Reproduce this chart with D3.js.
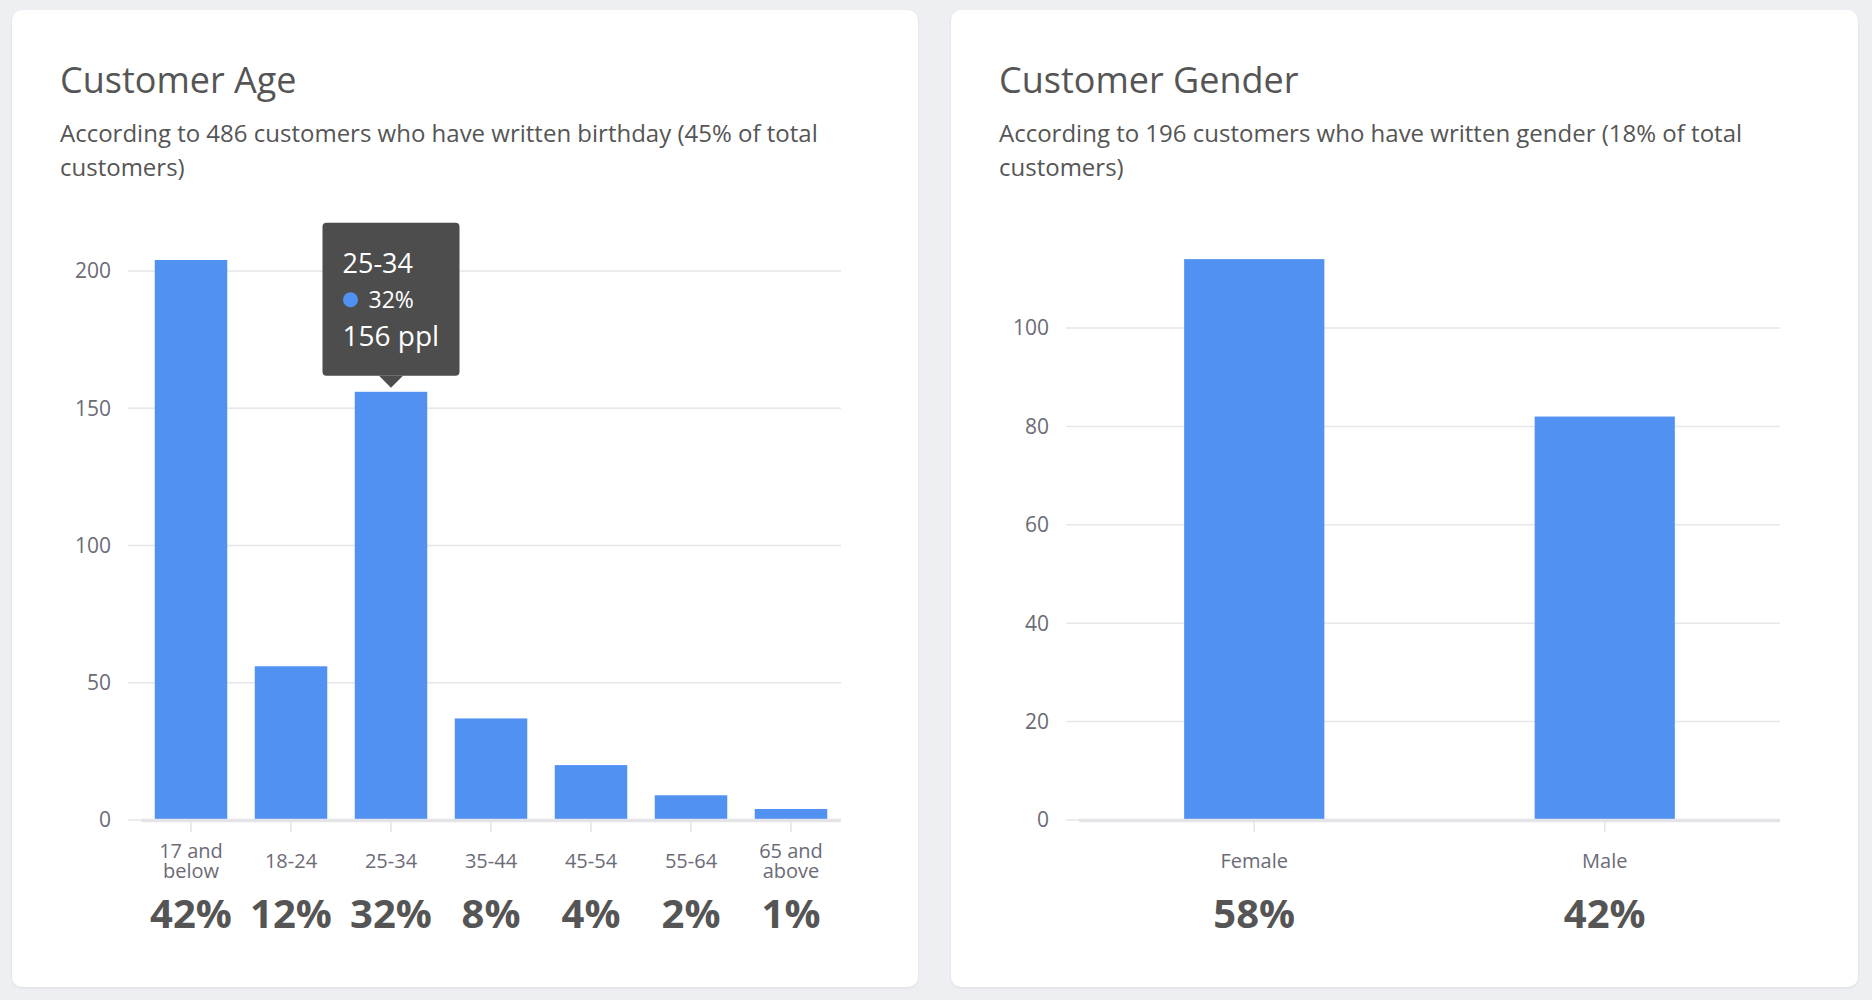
<!DOCTYPE html>
<html lang="en">
<head>
    <meta charset="UTF-8">
    <title>Customer Age / Gender</title>
    <script src="https://d3js.org/d3.v7.min.js"></script>
    <style>
        body {
            margin: 0;
            width: 1872px;
            height: 1000px;
            background: #eeeff2;
            font-family: "Open Sans", "Noto Sans", sans-serif;
            position: relative;
            overflow: hidden;
        }

        .card {
            position: absolute;
            top: 10px;
            height: 977px;
            background: #fff;
            border-radius: 10px;
            box-shadow: 0 1px 3px rgba(0, 0, 0, 0.08);
        }

        #chart {
            position: absolute;
            left: 0;
            top: 0;
        }
    </style>
</head>
<body>
    <div class="card" style="left: 12px; width: 906px;"></div>
    <div class="card" style="left: 951px; width: 907px;"></div>
    <svg id="chart" width="1872" height="1000"></svg>
    <script>
        // data
        const ageCategories = ["17 and below", "18-24", "25-34", "35-44", "45-54", "55-64", "65 and above"]
        const ageTickLines = [["17 and", "below"], ["18-24"], ["25-34"], ["35-44"], ["45-54"], ["55-64"], ["65 and", "above"]]
        const ageCounts = [204, 56, 156, 37, 20, 9, 4]
        const ageTicks = [0, 50, 100, 150, 200]

        const genderCategories = ["Female", "Male"]
        const genderTickLines = [["Female"], ["Male"]]
        const genderCounts = [114, 82]
        const genderTicks = [0, 20, 40, 60, 80, 100]

        const titles = ["Customer Age", "Customer Gender"]
        const subtitles = [
            ["According to 486 customers who have written birthday (45% of total", "customers)"],
            ["According to 196 customers who have written gender (18% of total", "customers)"]
        ]

        const tooltipCategory = "25-34"

        const blue = "#5091f2"
        const gridColor = "#e6e6eb"
        const labelColor = "#6b6b76"
        const textColor = "#555"

        const svg = d3.select("#chart")

        function drawPanel(opt) {
            const g = svg.append("g")

            // title + subtitle
            g.append("text")
                .attr("x", opt.left)
                .attr("y", 93)
                .attr("fill", textColor)
                .style("font-size", "36px")
                .text(opt.title)

            g.append("g").selectAll("text")
                .data(opt.subtitle)
                .enter()
                .append("text")
                    .attr("x", opt.left)
                    .attr("y", (d, i) => 142 + i * 34)
                    .attr("fill", textColor)
                    .style("font-size", "24px")
                    .text(d => d)

            var x = d3.scaleBand()
                .domain(opt.categories)
                .range([opt.x0, opt.x1])
                .paddingInner(opt.pad)
                .paddingOuter(opt.pad / 2)

            var y = d3.scaleLinear()
                .domain([0, opt.ticks[opt.ticks.length - 1]])
                .range([820, opt.yTop])

            // horizontal grid
            g.selectAll("line.grid").data(opt.ticks).enter()
                .append("line")
                    .attr("x1", opt.x0 - 13)
                    .attr("x2", opt.x1)
                    .attr("y1", d => y(d))
                    .attr("y2", d => y(d))
                    .attr("stroke", gridColor)
                    .attr("stroke-width", 1.5)

            // y labels
            g.selectAll("text.ylab").data(opt.ticks).enter()
                .append("text")
                    .attr("x", opt.x0 - 30)
                    .attr("y", d => y(d))
                    .attr("dy", "0.35em")
                    .attr("text-anchor", "end")
                    .attr("fill", labelColor)
                    .style("font-size", "21px")
                    .text(d => d)

            // bars
            g.selectAll("rect.bar").data(opt.counts).enter()
                .append("rect")
                    .attr("x", (d, i) => x(opt.categories[i]))
                    .attr("width", x.bandwidth())
                    .attr("y", d => y(d))
                    .attr("height", d => y(0) - y(d))
                    .attr("fill", blue)

            // baseline
            g.append("line")
                .attr("x1", opt.x0)
                .attr("x2", opt.x1)
                .attr("y1", y(0) + 0.5)
                .attr("y2", y(0) + 0.5)
                .attr("stroke", "#e3e3e8")
                .attr("stroke-width", 3.5)

            // x ticks
            g.selectAll("line.xtick").data(opt.categories).enter()
                .append("line")
                    .attr("x1", d => x(d) + x.bandwidth() / 2)
                    .attr("x2", d => x(d) + x.bandwidth() / 2)
                    .attr("y1", 822)
                    .attr("y2", 832)
                    .attr("stroke", "#e3e3e8")
                    .attr("stroke-width", 1.5)

            // x labels
            opt.categories.forEach(function (c, i) {
                const lines = opt.tickLines[i]
                const cx = x(c) + x.bandwidth() / 2
                const y0 = lines.length > 1 ? 858 : 868
                lines.forEach(function (l, j) {
                    g.append("text")
                        .attr("x", cx)
                        .attr("y", y0 + j * 20)
                        .attr("text-anchor", "middle")
                        .attr("fill", labelColor)
                        .style("font-size", "20px")
                        .text(l)
                })
            })

            // share of total under each bar
            const total = d3.sum(opt.counts)
            g.selectAll("text.pct").data(opt.counts).enter()
                .append("text")
                    .attr("x", (d, i) => x(opt.categories[i]) + x.bandwidth() / 2)
                    .attr("y", 928)
                    .attr("text-anchor", "middle")
                    .attr("fill", textColor)
                    .style("font-size", "40px")
                    .style("font-weight", "700")
                    .text(d => Math.round(d / total * 100) + "%")

            return {x: x, y: y, total: total}
        }

        const age = drawPanel({
            left: 60, title: titles[0], subtitle: subtitles[0],
            categories: ageCategories, tickLines: ageTickLines, counts: ageCounts, ticks: ageTicks,
            x0: 141, x1: 841, pad: 0.275, yTop: 271
        })

        drawPanel({
            left: 999, title: titles[1], subtitle: subtitles[1],
            categories: genderCategories, tickLines: genderTickLines, counts: genderCounts, ticks: genderTicks,
            x0: 1079, x1: 1780, pad: 0.6, yTop: 328
        })

        // tooltip on the 25-34 bar
        const ti = ageCategories.indexOf(tooltipCategory)
        const tv = ageCounts[ti]
        const tcx = age.x(tooltipCategory) + age.x.bandwidth() / 2
        const tipY = age.y(tv) - 4
        const tw = 137, th = 153
        const tx = tcx - tw / 2, ty = tipY - 12 - th

        const tip = svg.append("g")
        tip.append("rect")
            .attr("x", tx)
            .attr("y", ty)
            .attr("width", tw)
            .attr("height", th)
            .attr("rx", 4)
            .attr("fill", "#4d4d4d")
        tip.append("path")
            .attr("d", `M${tcx - 12},${ty + th} L${tcx + 12},${ty + th} L${tcx},${tipY} Z`)
            .attr("fill", "#4d4d4d")
        tip.append("text")
            .attr("x", tx + 20)
            .attr("y", ty + 50)
            .attr("fill", "#fff")
            .style("font-size", "27px")
            .text(tooltipCategory)
        tip.append("circle")
            .attr("cx", tx + 28)
            .attr("cy", ty + 77)
            .attr("r", 7.5)
            .attr("fill", blue)
        tip.append("text")
            .attr("x", tx + 46)
            .attr("y", ty + 85)
            .attr("fill", "#fff")
            .style("font-size", "23px")
            .text(Math.round(tv / age.total * 100) + "%")
        tip.append("text")
            .attr("x", tx + 20)
            .attr("y", ty + 123)
            .attr("fill", "#fff")
            .style("font-size", "28px")
            .text(tv + " ppl")
    </script>
</body>
</html>
